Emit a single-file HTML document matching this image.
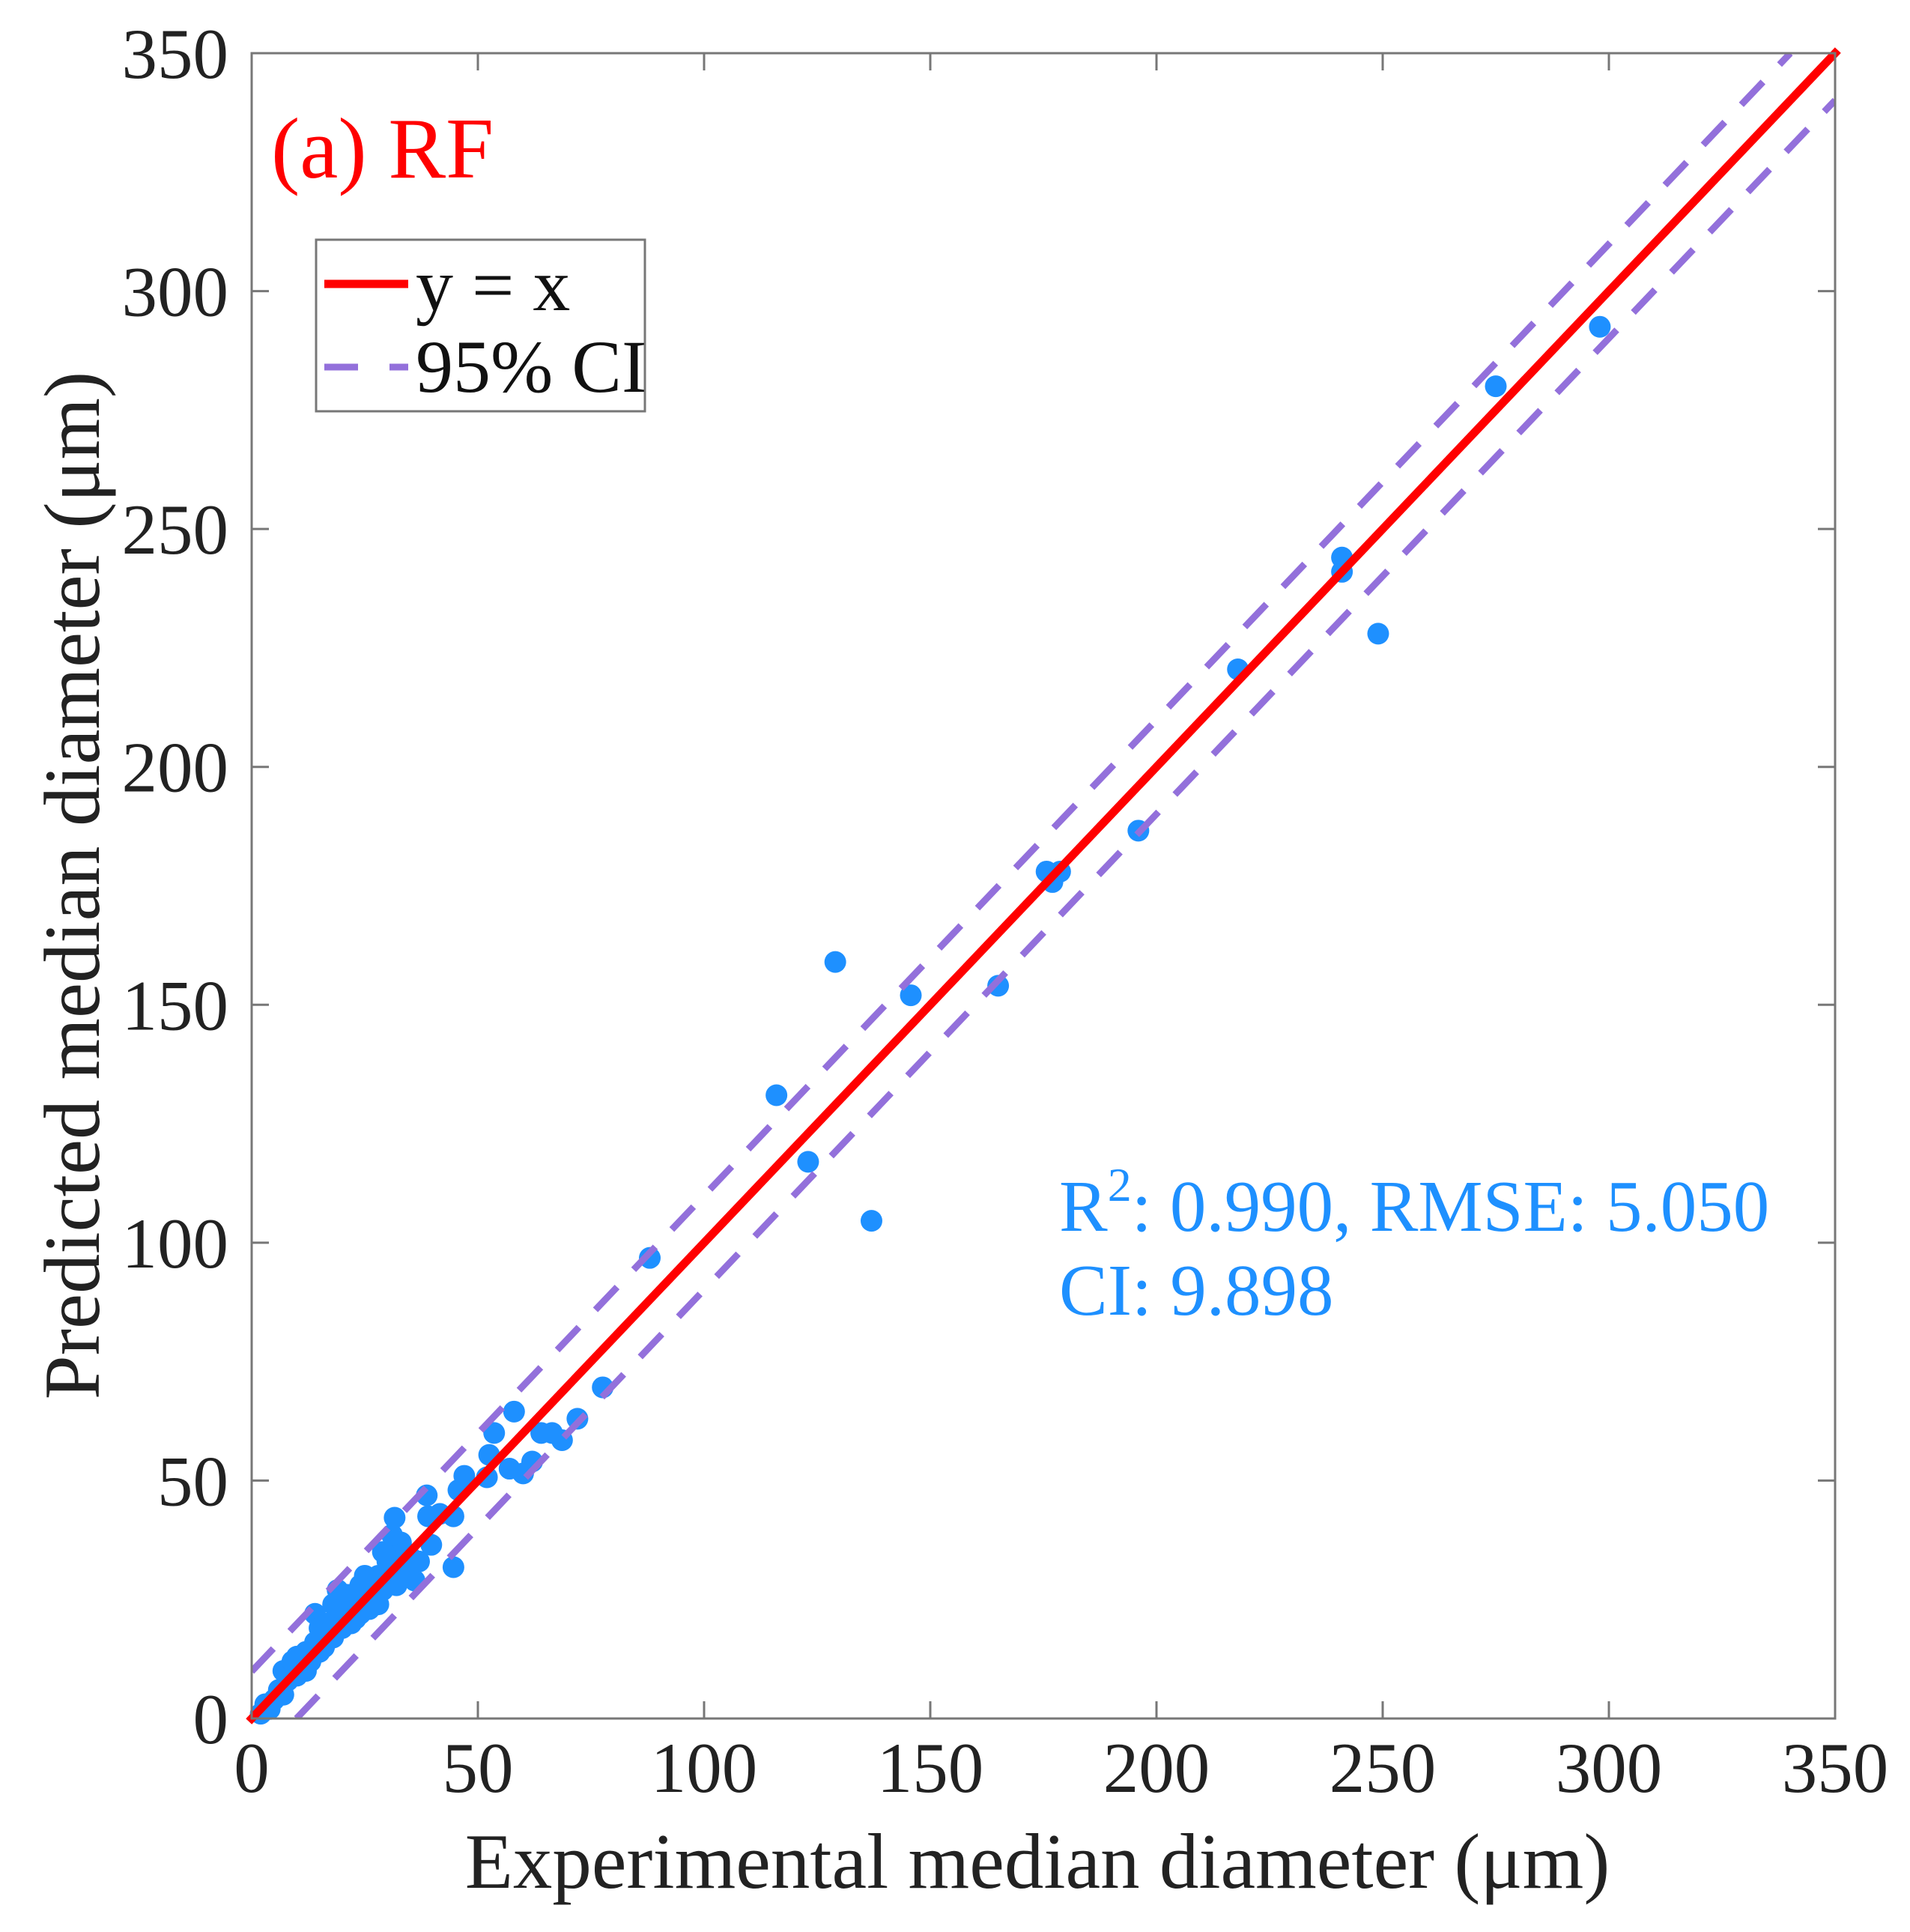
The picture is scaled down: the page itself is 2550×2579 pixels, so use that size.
<!DOCTYPE html>
<html><head><meta charset="utf-8"><style>
html,body{margin:0;padding:0;background:#fff;}
svg{display:block;font-family:"Liberation Serif",serif;}
</style></head><body>
<svg id="chart" width="2550" height="2579" viewBox="0 0 2550 2579" xmlns="http://www.w3.org/2000/svg">
<rect x="0" y="0" width="2550" height="2579" fill="#fff"/>
<g id="marks"></g>
<g id="axes"></g>
<text x="362" y="237" font-size="115" fill="#ff0000">(a) RF</text>
<g>
<rect x="422" y="320" width="439" height="229" fill="#fff" stroke="#777" stroke-width="3"/>
<line x1="433" y1="379" x2="545" y2="379" stroke="#ff0000" stroke-width="11"/>
<text x="555" y="414" font-size="100" fill="#111">y = x</text>
<line x1="433" y1="490" x2="545" y2="490" stroke="#9370DB" stroke-width="9" stroke-dasharray="45,42"/>
<text x="555" y="523" font-size="100" fill="#111">95% CI</text>
</g>
<text x="1414" y="1643" font-size="97" fill="#1E90FF">R<tspan dy="-40" font-size="64">2</tspan><tspan dy="40">: 0.990, RMSE: 5.050</tspan></text>
<text x="1414" y="1755" font-size="97" fill="#1E90FF">CI: 9.898</text>
<text x="1385" y="2520" font-size="105" text-anchor="middle" fill="#222">Experimental median diameter (μm)</text>
<text transform="translate(132,1182) rotate(-90)" font-size="106" text-anchor="middle" fill="#222">Predicted median diameter (μm)</text>
</svg>
<script>
const xTicks = [0,50,100,150,200,250,300,350];
const yTicks = [0,50,100,150,200,250,300,350];
const ciHalfWidth = 9.898;
const expX = [2,3,4,5,6,7,7,8,9,10,10,11,12,12,13,14,14,15,16,16,17,18,18,19,19,20,20,21,22,22,23,24,24,25,25,26,27,27,28,28,29,30,30,31,32,32,33,34,35,35,36,37,26,23,20,15,21,29,
 31.6,31,34.3,33,29.4,38.7,44.6,41.6,39,39.7,44.6,45.7,47,52,52.5,57,60,62,68.6,66.4,64,53.6,58,72,77.6,88,
 137,123,116,129,145.7,165,177,178.7,175.7,196,218,249,241,241,275,298];
const predY = [1,3,2,4,6,5,10,8,12,9,13,11,14,10,12,16,22,14,18,15,20,17,24,21,27,19,25,22,20,26,24,22,28,26,30,23,28,25,30,24,27,33,29,31,35,28,37,32,30,34,29,33,29,21,23,19,26,35,
 42.2,38.6,34.7,29.5,34.7,46.9,42.5,43,42.5,36.5,31.8,48,51,50.7,55.4,52.5,51.5,54,58.5,60,60,60,64.5,63,69.6,96.8,
 104.6,117,131,159,152,154,175.8,178,178,186.6,220.5,228,241,244,280,292.5];
const X0=336, X1=2450, Y0=2294, Y1=71, DMAX=350;
function sx(v){return X0+(v/DMAX)*(X1-X0);}
function sy(v){return Y0-(v/DMAX)*(Y0-Y1);}
const NS="http://www.w3.org/2000/svg";
function mk(tag, attrs, parent){const e=document.createElementNS(NS,tag);for(const k in attrs)e.setAttribute(k,attrs[k]);parent.appendChild(e);return e;}
const marks=document.getElementById('marks');
const axes=document.getElementById('axes');
for(let i=0;i<expX.length;i++){
  const c=mk('circle',{cx:sx(expX[i]),cy:sy(predY[i]),r:14.5,fill:'#1E90FF'},marks);
  
  
}
const defs=mk('defs',{},marks);
const cp=mk('clipPath',{id:'plotclip'},defs);
mk('rect',{x:X0,y:Y1,width:X1-X0,height:Y0-Y1},cp);
const ciU=mk('line',{x1:sx(0),y1:sy(ciHalfWidth),x2:sx(DMAX-ciHalfWidth),y2:sy(DMAX),stroke:'#9370DB','stroke-width':9,'stroke-dasharray':'42,32','clip-path':'url(#plotclip)'},marks);


const ciL=mk('line',{x1:sx(ciHalfWidth),y1:sy(0),x2:sx(DMAX),y2:sy(DMAX-ciHalfWidth),stroke:'#9370DB','stroke-width':9,'stroke-dasharray':'42,32','clip-path':'url(#plotclip)'},marks);


const idl=mk('line',{x1:sx(0),y1:sy(0),x2:sx(DMAX),y2:sy(DMAX),stroke:'#ff0000','stroke-width':11,'stroke-linecap':'square'},marks);


const box=mk('rect',{x:X0,y:Y1,width:X1-X0,height:Y0-Y1,fill:'none',stroke:'#777','stroke-width':3},axes);


xTicks.forEach(t=>{
  const x=sx(t);
  const a=mk('line',{x1:x,y1:Y0,x2:x,y2:Y0-23,stroke:'#777','stroke-width':3},axes);
  
  
  const b=mk('line',{x1:x,y1:Y1,x2:x,y2:Y1+23,stroke:'#777','stroke-width':3},axes);
  
  
  const tx=mk('text',{x:x,y:2392,'font-size':95,'text-anchor':'middle',fill:'#222'},axes);
  tx.textContent=t;
  
  
});
yTicks.forEach(t=>{
  const y=sy(t);
  const a=mk('line',{x1:X0,y1:y,x2:X0+23,y2:y,stroke:'#777','stroke-width':3},axes);
  
  
  const b=mk('line',{x1:X1,y1:y,x2:X1-23,y2:y,stroke:'#777','stroke-width':3},axes);
  
  
  const tx=mk('text',{x:305,y:y+33,'font-size':95,'text-anchor':'end',fill:'#222'},axes);
  tx.textContent=t;
  
  
});
</script>
</body></html>
